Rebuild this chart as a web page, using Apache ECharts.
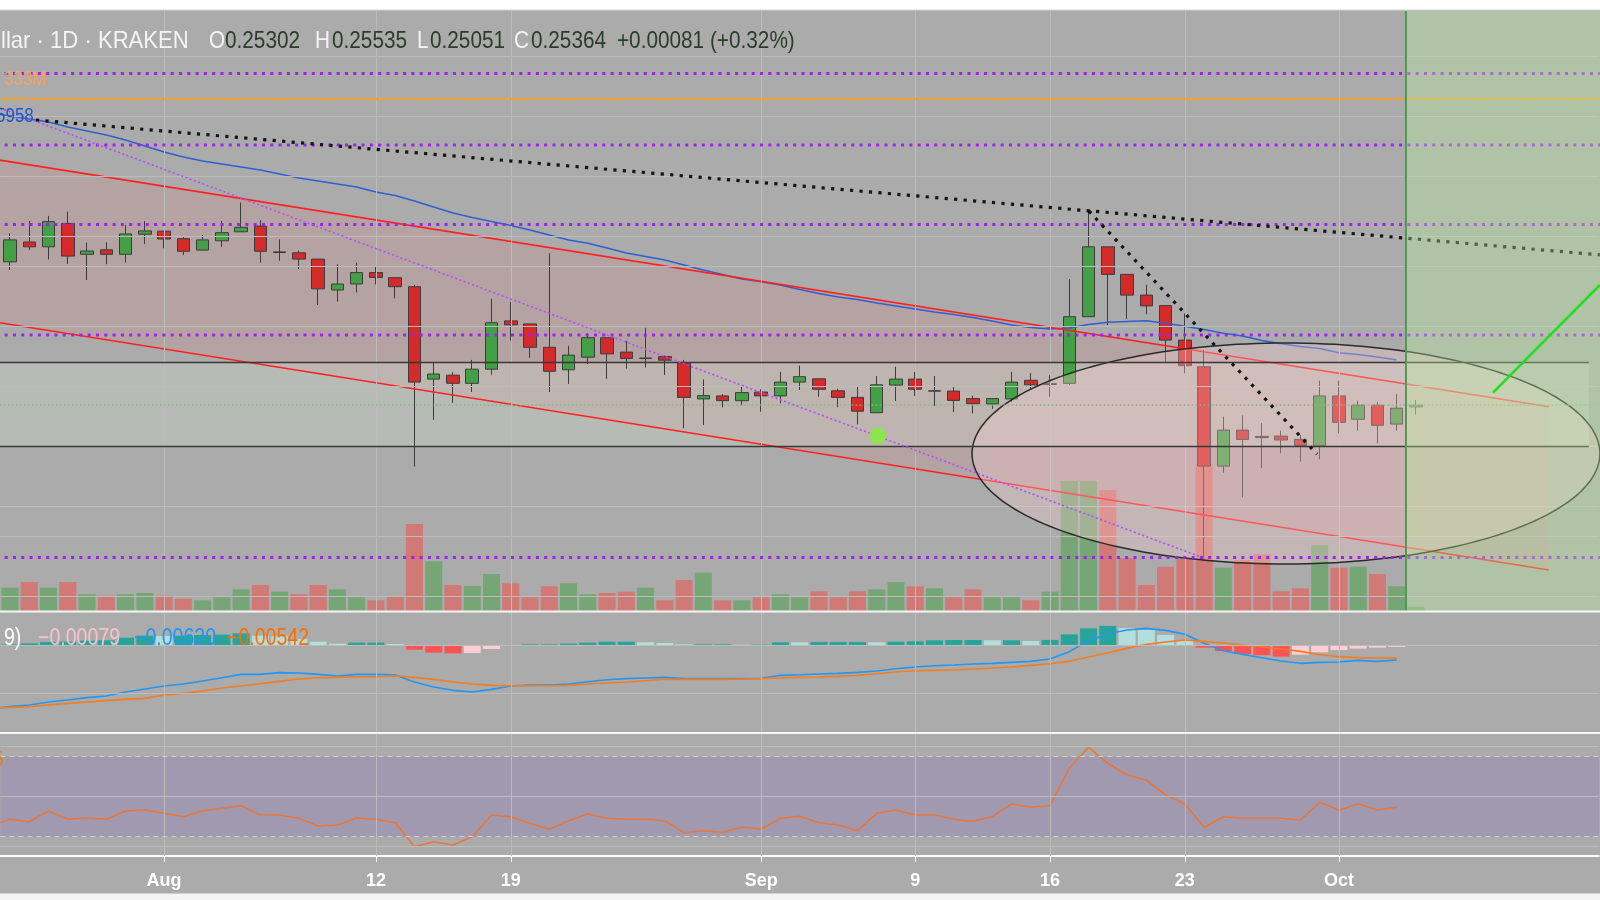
<!DOCTYPE html>
<html><head><meta charset="utf-8">
<script src="https://cdn.jsdelivr.net/npm/echarts@6/dist/echarts.min.js"></script>
<style>html,body{margin:0;padding:0;background:#fff}#c{width:1600px;height:900px}</style>
</head><body><div id="c"></div>
<script>
// ---------- DATA ----------
// categories: daily dates starting 2019-07-24 (83 days); day index 0 = 2019-07-24
const firstDay = Date.UTC(2019, 6, 24);
const dayCount = 83;
const dates = [];
for (let i = 0; i < dayCount; i++) dates.push(new Date(firstDay + i * 864e5).toISOString().slice(0, 10));

// tick labels on the time axis
const tickLabels = {'2019-08-01':'Aug','2019-08-12':'12','2019-08-19':'19','2019-09-01':'Sep','2019-09-09':'9','2019-09-16':'16','2019-09-23':'23','2019-10-01':'Oct'};

// candles: 2019-07-24 .. 2019-10-05
const candleOpen = [.3014,.3080,.3064,.3142,.3039,.3054,.3039,.3106,.3116,.3091,.3053,.3084,.3114,.3133,.3045,.3044,.3023,.2920,.2940,.2978,.2961,.2931,.2623,.2636,.2609,.2656,.2817,.2807,.2729,.2654,.2696,.2761,.2713,.2692,.2698,.2678,.2557,.2567,.2551,.2580,.2567,.2613,.2624,.2584,.2562,.2511,.2603,.2623,.2583,.2583,.2558,.2540,.2557,.2619,.2605,.2609,.2831,.3064,.2972,.2903,.2868,.2753,.2664,.2333,.2453,.2432,.2433,.2422,.2400,.2567,.2489,.2536,.2473,.25302];
const candleClose = [.3087,.3064,.3148,.3033,.3050,.3039,.3107,.3117,.3090,.3049,.3087,.3111,.3129,.3049,.3047,.3023,.2924,.2940,.2978,.2962,.2931,.2613,.2640,.2609,.2656,.2811,.2804,.2729,.2649,.2703,.2761,.2707,.2692,.2693,.2686,.2562,.2568,.2551,.2578,.2567,.2613,.2631,.2589,.2562,.2516,.2604,.2623,.2589,.2584,.2552,.2541,.2558,.2613,.2604,.2608,.2831,.3064,.2972,.2903,.2867,.2753,.2668,.2333,.2453,.2422,.2428,.2420,.2401,.2567,.2479,.2536,.2469,.2526,.25364];
const candleHigh = [.3109,.3150,.3167,.3181,.3078,.3079,.3137,.3150,.3117,.3100,.3103,.3150,.3212,.3153,.3089,.3051,.3023,.3006,.3011,.3000,.2962,.2937,.2678,.2646,.2687,.2891,.2881,.2807,.3042,.2734,.2776,.2761,.2751,.2794,.2701,.2687,.2622,.2573,.2600,.2589,.2647,.2668,.2624,.2591,.2600,.2633,.2664,.2647,.2633,.2600,.2568,.2558,.2647,.2643,.2636,.2956,.3184,.3064,.2972,.2937,.2868,.2842,.2720,.2498,.2502,.2476,.2451,.2437,.2618,.2618,.2551,.2547,.2573,.25535];
const candleLow = [.2987,.3053,.3022,.3007,.2953,.3006,.3012,.3073,.3059,.3037,.3052,.3064,.3114,.3011,.3017,.2990,.2870,.2881,.2912,.2939,.2892,.2331,.2487,.2544,.2580,.2638,.2751,.2694,.2580,.2607,.2673,.2624,.2658,.2662,.2637,.2459,.2470,.2529,.2536,.2514,.2542,.2587,.2564,.2529,.2472,.2511,.2550,.2567,.2534,.2513,.2509,.2524,.2547,.2589,.2564,.2603,.2831,.2803,.2823,.2839,.2679,.2642,.2020,.2311,.2229,.2326,.2376,.2348,.2356,.2442,.2451,.2409,.2451,.25051];
// volume (millions), same dates as candles
const volume = [23.3,29,23.3,29,16.7,15.3,16.7,18,15.3,12.3,10.7,13.7,21.7,26,19.3,16.7,26,21.7,13.7,10.7,15,87,49.7,26,25,37,27.7,13.7,24.7,27.7,16.7,18,19.3,23.3,10.7,31,38.3,10.7,10.7,13.7,16.7,13.7,19.7,13.7,19.7,21.7,29,24.7,22.7,13.7,21.7,13.7,13.7,10.7,19.3,130,130,121,52.7,26,44.3,52,147,43.3,51,56.7,19.7,22.7,66,43.3,44.3,37,24.7,4.3];

// indicator series start one day earlier: 2019-07-23 .. 2019-10-04
const indicatorFirstIndex = -1;
// moving average (blue)
const maLine = [.35100,.35000,.34900,.34800,.34633,.34500,.34367,.34200,.34000,.33800,.33633,.33500,.33400,.33300,.33200,.33067,.32933,.32833,.32733,.32633,.32467,.32350,.32167,.31967,.31767,.31617,.31483,.31350,.31200,.31033,.30867,.30757,.30600,.30433,.30317,.30200,.30033,.29867,.29717,.29567,.29477,.29367,.29217,.29083,.28967,.28883,.28767,.28667,.28567,.28467,.28383,.28283,.28167,.28033,.27950,.27900,.27933,.28050,.28123,.28150,.28173,.28090,.27993,.27883,.27757,.27667,.27517,.27410,.27317,.27250,.27110,.27050,.26967,.26867];
// MACD pane
const macdLine = [-.02631,-.02548,-.02479,-.02355,-.02273,-.02176,-.02107,-.01942,-.01818,-.01694,-.01612,-.01488,-.0135,-.01212,-.01212,-.01143,-.01157,-.01212,-.01281,-.01212,-.01212,-.0124,-.01529,-.01736,-.01873,-.01942,-.01832,-.01694,-.01653,-.01653,-.01612,-.01515,-.01433,-.01391,-.01364,-.01336,-.01391,-.01391,-.01391,-.01391,-.01377,-.01253,-.01226,-.01198,-.01171,-.01129,-.01074,-.00978,-.00909,-.00854,-.00826,-.00785,-.00757,-.00716,-.00675,-.00579,-.00275,.00179,.00468,.0062,.00689,.00606,.00441,.00069,-.00234,-.00386,-.00523,-.00661,-.00757,-.00716,-.00702,-.00634,-.00675,-.0062];
const signalLine = [-.02603,-.02576,-.02548,-.02479,-.0241,-.02355,-.023,-.02245,-.02204,-.02066,-.01997,-.01901,-.01777,-.01694,-.01598,-.01501,-.01405,-.0135,-.01336,-.01309,-.01309,-.01281,-.01336,-.01419,-.01529,-.01612,-.01667,-.01681,-.01681,-.01681,-.01667,-.01612,-.0157,-.01529,-.01474,-.01419,-.01419,-.01419,-.01419,-.01405,-.01391,-.01364,-.01336,-.01322,-.01295,-.01253,-.01185,-.01116,-.01061,-.01047,-.01033,-.00992,-.0095,-.00909,-.0084,-.00771,-.00675,-.00496,-.00317,-.00138,.00028,.00124,.00207,.00152,.00083,0,-.00069,-.00165,-.00262,-.004,-.00482,-.00523,-.00537,-.00542];
const macdHist = [.00028,.00028,.00069,.00124,.00137,.00179,.00193,.00303,.00386,.00372,.00385,.00413,.00427,.00482,.00386,.00358,.00248,.00138,.00055,.00097,.00097,.00041,-.00193,-.00317,-.00344,-.0033,-.00165,-.00013,.00028,.00028,.00055,.00097,.00137,.00138,.0011,.00083,.00028,.00028,.00028,.00014,.00014,.00111,.0011,.00124,.00124,.00124,.00111,.00138,.00152,.00193,.00207,.00207,.00193,.00193,.00165,.00210,.0044,.0069,.0079,.0070,.0062,.0042,.0021,-.0011,-.0025,-.0037,-.0042,-.0048,-.0040,-.0030,-.0021,-.0015,-.0011,-.00079];
// RSI pane
const rsiLine = [35.4,38.7,37.5,42.85,38.7,39.35,38.7,42.85,43.35,41.7,40.0,42.85,44.2,45.5,41.0,40.85,39.2,35.35,35.85,39.35,38.7,37.0,25.0,27.5,25.85,30.0,40.85,40.0,36.7,33.7,38.0,41.35,39.2,38.7,38.7,38.0,32.0,33.0,32.2,34.7,33.85,39.2,40.2,37.0,35.85,33.0,41.7,43.35,40.85,40.85,38.7,37.7,40.0,46.35,44.7,45.5,64.2,74.7,66.7,60.85,58.35,50.85,46.35,34.7,40.0,39.2,39.2,39.2,38.35,47.2,43.35,46.35,43.35,44.7];

// drawings: [dayIndex (0 = 2019-07-24), price]
const channelUpper = [[-1.5, 0.3363], [79.907, 0.2531]];
const channelLower = [[-1.5, 0.2821], [79.907, 0.19867]];
const longDotted = [[1.35, 0.34867], [82.55, 0.3037]];
const shortDotted = [[56.02, 0.3183], [67.86, 0.2373]];
const purpleDiag = [[-0.52, 0.35267], [61.79, 0.2031]];
const greenRay = [[77.0, 0.25777], [82.55, 0.29367]];
const greenDot = [[45.05, 0.24333]];
const purpleLevels = [0.3642, 0.3403, 0.3138, 0.2770, 0.2028];
const orangeLevel = 0.3557;
const blackLevels = [0.2678, 0.2398];
const blackLevelEnd = 81.98;
const lastPrice = 0.25364;
const ellipse = {cx: 66.25, cy: 0.2375, rx: 16.30, ry: 0.03683};
const greenZoneStart = 72.48;
// gridlines
const vGridDays = [8, 19, 26, 39, 47, 54, 61, 69];
const priceGrid = [0.18817, 0.20607, 0.22397, 0.24187, 0.25977, 0.27767, 0.29557, 0.31347, 0.33137, 0.34927, 0.36717];
const macdGrid = [0, -0.022];
const rsiGrid = [75, 50, 25];
const rsiBand = [30, 70];

// ---------- LAYOUT ----------
const D = 19.26;              // px per day
const GL = 10 - D / 2;        // 2019-07-24 centred at x=10
const GW = dayCount * D;
const FONT = '"Liberation Sans", Arial, sans-serif';
const upCol = '#43a047', downCol = '#d42a2a';

const padCat = arr => { const o = new Array(dayCount).fill('-'); arr.forEach((v, i) => { if (i < dayCount) o[i] = v; }); return o; };
const candleData = padCat(candleOpen.map((o, i) => [o, candleClose[i], candleLow[i], candleHigh[i]]));
const volData = padCat(volume.map((v, i) => ({value: v, itemStyle: {color: candleClose[i] >= candleOpen[i] ? 'rgba(60,160,60,0.48)' : 'rgba(255,60,50,0.45)'}})));
const indXY = arr => arr.map((v, i) => [i + indicatorFirstIndex, v]);
const histData = macdHist.map((v, i) => {
  const p = i > 0 ? macdHist[i - 1] : v;
  let c;
  if (v >= 0) c = v >= p ? '#26a69a' : '#b2dfdb'; else c = v < p ? '#ff5252' : '#ffcdd2';
  return {value: [i + indicatorFirstIndex, v], itemStyle: {color: c}};
});

function hLine(y, x0, x1) { return [[x0, y], [x1, y]]; }
function lineSeries(data, color, width, type, z, xi, yi) {
  return {type: 'line', xAxisIndex: xi === undefined ? 1 : xi, yAxisIndex: yi === undefined ? 0 : yi, data, symbol: 'none', silent: true, z: z || 6, clip: false,
    lineStyle: {color, width, type: type || 'solid', cap: 'butt'}, animation: false};
}
const gridStyle = {color: '#bcbcbc', width: 1, type: 'solid'};
function gridMarks(xi, yi, hvals) {
  return {type: 'line', xAxisIndex: xi, yAxisIndex: yi, data: [], silent: true, z: 0,
    markLine: {symbol: ['none', 'none'], silent: true, label: {show: false}, lineStyle: gridStyle, animation: false,
      data: vGridDays.map(d => ({xAxis: d})).concat(hvals.map(v => ({yAxis: v})))}};
}

const series = [];
series.push(gridMarks(1, 0, priceGrid));
series.push(gridMarks(4, 2, macdGrid));
const rsiGridS = gridMarks(5, 3, rsiGrid);
rsiGridS.markArea = {silent: true, itemStyle: {color: 'rgba(126,87,194,0.2)'}, data: [[{yAxis: rsiBand[0]}, {yAxis: rsiBand[1]}]]};
series.push(rsiGridS);
series.push({type: 'line', xAxisIndex: 5, yAxisIndex: 3, data: [], silent: true, z: 1,
  markLine: {symbol: ['none', 'none'], silent: true, label: {show: false}, animation: false,
    lineStyle: {color: '#cfcfcf', width: 1, type: [5, 4]}, data: rsiBand.map(v => ({yAxis: v}))}});

// channel fill
series.push({type: 'custom', xAxisIndex: 1, yAxisIndex: 0, silent: true, z: 1, clip: false, data: [[0, 0.3]],
  renderItem: (p, api) => ({type: 'polygon', shape: {points: [channelUpper[0], channelUpper[1], channelLower[1], channelLower[0]].map(q => api.coord(q))},
    style: {fill: 'rgba(255,110,110,0.12)'}})});
// light band between black levels
series.push({type: 'custom', xAxisIndex: 1, yAxisIndex: 0, silent: true, z: 1, clip: false, data: [[0, 0.25]],
  renderItem: (p, api) => ({type: 'polygon', shape: {points: [[-2, blackLevels[0]], [blackLevelEnd, blackLevels[0]], [blackLevelEnd, blackLevels[1]], [-2, blackLevels[1]]].map(q => api.coord(q))},
    style: {fill: 'rgba(220,235,215,0.25)'}})});

// volume
series.push({type: 'bar', xAxisIndex: 0, yAxisIndex: 1, data: volData, barWidth: 17, silent: true, z: 2, animation: false});
// candles
series.push({type: 'candlestick', xAxisIndex: 0, yAxisIndex: 0, data: candleData, barWidth: 13, silent: true, z: 3, animation: false,
  itemStyle: {color: upCol, color0: downCol, borderColor: '#3c3c3c', borderColor0: '#3c3c3c', borderWidth: 1}});
// moving average
series.push(lineSeries(indXY(maLine), '#2f5fd0', 1.6, 'solid', 4));

// channel lines
series.push(lineSeries(channelUpper, '#ff1f1f', 1.6, 'solid', 4));
series.push(lineSeries(channelLower, '#ff1f1f', 1.6, 'solid', 4));
// ellipse
series.push({type: 'custom', xAxisIndex: 1, yAxisIndex: 0, silent: true, z: 5, clip: false, data: [[ellipse.cx, ellipse.cy]],
  renderItem: (p, api) => {
    const c = api.coord([ellipse.cx, ellipse.cy]);
    const s = api.size([ellipse.rx, ellipse.ry]);
    const pts = [];
    for (let k = 0; k <= 200; k++) { const t = k / 200 * Math.PI * 2; pts.push([c[0] + s[0] * Math.cos(t), c[1] + s[1] * Math.sin(t)]); }
    return {type: 'polygon', shape: {points: pts}, style: {fill: 'rgba(250,205,205,0.33)', stroke: '#2a2a2a', lineWidth: 1.5}};
  }});
// horizontal levels
purpleLevels.forEach(v => series.push(lineSeries(hLine(v, -2, 84), '#a020f0', 3, [3, 5.3], 6)));
series.push(lineSeries(hLine(orangeLevel, -2, 84), '#ff9f1a', 2.5, [4, 2], 6));
blackLevels.forEach(v => series.push(lineSeries(hLine(v, -2, blackLevelEnd), '#383838', 1.5, 'solid', 6)));
series.push(lineSeries(hLine(lastPrice, -2, 84), '#7dbb7d', 1.2, [2, 2], 6));
// diagonal drawings
series.push(lineSeries(purpleDiag, '#b04bff', 1.6, [2, 2.5], 6));
series.push(lineSeries(longDotted, '#141414', 3.2, [3.2, 6.3], 7));
series.push(lineSeries(shortDotted, '#141414', 3.2, [3.2, 6.3], 7));
series.push(lineSeries(greenRay, '#1fe01f', 2.6, 'solid', 9));
series.push({type: 'scatter', xAxisIndex: 1, yAxisIndex: 0, data: greenDot, symbol: 'circle', symbolSize: 17, silent: true, z: 7,
  itemStyle: {color: '#8de44e', opacity: 1}, animation: false});
// green zone
series.push({type: 'custom', xAxisIndex: 1, yAxisIndex: 0, silent: true, z: 8, clip: false, data: [[greenZoneStart, 0.3]],
  renderItem: (p, api) => {
    const a = api.coord([greenZoneStart, 0.385]), b = api.coord([84, 0.185]);
    return {type: 'group', children: [
      {type: 'rect', shape: {x: a[0], y: a[1], width: b[0] - a[0], height: b[1] - a[1]}, style: {fill: 'rgba(190,240,160,0.35)'}},
      {type: 'line', shape: {x1: a[0], y1: a[1], x2: a[0], y2: b[1]}, style: {stroke: '#4f9a4f', lineWidth: 2}}
    ]};
  }});

// MACD
series.push({type: 'bar', xAxisIndex: 4, yAxisIndex: 2, data: histData, barWidth: 17, silent: true, z: 2, animation: false});
series.push(lineSeries(indXY(macdLine), '#2196f3', 1.6, 'solid', 3, 4, 2));
series.push(lineSeries(indXY(signalLine), '#f57c1f', 1.6, 'solid', 3, 4, 2));
// RSI
series.push(lineSeries(indXY(rsiLine), '#e8763a', 1.6, 'solid', 3, 5, 3));

const hiddenCat = g => ({type: 'category', gridIndex: g, data: dates, boundaryGap: true, show: false});
const hiddenVal = g => ({type: 'value', gridIndex: g, min: -0.5, max: dayCount - 0.5, show: false});
const isTick = (i, v) => Object.prototype.hasOwnProperty.call(tickLabels, v);

function txt(x, y, text, fill, size, sx) {
  return {type: 'text', x, y, scaleX: sx, z: 100, silent: true,
    style: {text, fill, font: size + 'px ' + FONT, align: 'left', verticalAlign: 'middle'}};
}
const hdrS = 0.865, valCol = '#2c3b2c', white = '#f4f4f4';
const gridBase = {left: GL, width: GW, outerBoundsMode: 'none', containLabel: false};

const option = {
  animation: false,
  backgroundColor: '#ababab',
  textStyle: {fontFamily: FONT},
  grid: [
    Object.assign({top: 11, height: 600}, gridBase),
    Object.assign({top: 612, height: 121}, gridBase),
    Object.assign({top: 733, height: 123}, gridBase)
  ],
  xAxis: [
    hiddenCat(0), hiddenVal(0), hiddenCat(1),
    {type: 'category', gridIndex: 2, data: dates, boundaryGap: true, position: 'bottom',
      axisLine: {show: true, lineStyle: {color: '#ffffff', width: 2}},
      axisTick: {show: true, alignWithLabel: true, interval: isTick, length: 6, lineStyle: {color: '#ffffff', width: 1}},
      axisLabel: {show: true, interval: isTick, formatter: v => tickLabels[v] || '', color: '#ffffff', fontSize: 18, fontWeight: 'bold', margin: 16, fontFamily: FONT},
      splitLine: {show: false}},
    hiddenVal(1), hiddenVal(2)
  ],
  yAxis: [
    {type: 'value', gridIndex: 0, min: 0.185, max: 0.385, show: false},
    {type: 'value', gridIndex: 0, min: 0, max: 600, show: false},
    {type: 'value', gridIndex: 1, min: -0.03636, max: 0.01364, show: false},
    {type: 'value', gridIndex: 2, min: 20.35, max: 81.85, show: false}
  ],
  series,
  graphic: [
    {type: 'rect', shape: {x: 0, y: 0, width: 1600, height: 10}, style: {fill: '#ffffff'}, z: 90, silent: true},
    {type: 'rect', shape: {x: 0, y: 9.5, width: 1600, height: 1}, style: {fill: '#d8d8d8'}, z: 90, silent: true},
    {type: 'rect', shape: {x: 0, y: 610.5, width: 1600, height: 2}, style: {fill: '#f6f6f6'}, z: 90, silent: true},
    {type: 'rect', shape: {x: 0, y: 732, width: 1600, height: 2}, style: {fill: '#f6f6f6'}, z: 90, silent: true},
    {type: 'rect', shape: {x: 0, y: 893.5, width: 1600, height: 6.5}, style: {fill: '#f4f4f4'}, z: 90, silent: true},
    txt(1, 41, 'llar · 1D · KRAKEN', white, 24, 0.92),
    txt(209, 41, 'O', white, 24, hdrS), txt(225, 41, '0.25302', valCol, 24, hdrS),
    txt(315, 41, 'H', white, 24, hdrS), txt(332, 41, '0.25535', valCol, 24, hdrS),
    txt(417, 41, 'L', white, 24, hdrS), txt(430, 41, '0.25051', valCol, 24, hdrS),
    txt(514, 41, 'C', white, 24, hdrS), txt(531, 41, '0.25364', valCol, 24, hdrS),
    txt(617, 41, '+0.00081 (+0.32%)', valCol, 24, hdrS),
    txt(4, 79, '333M', '#f4a266', 20, 0.85),
    txt(-4, 116, '5958', '#2257c5', 20, 0.85),
    txt(4, 639, '9)', '#ffffff', 23, 0.85),
    txt(38, 639, '\u22120.00079', '#f8c1cf', 23, 0.85),
    txt(134, 639, '\u22120.00620', '#2196f3', 23, 0.85),
    txt(227, 639, '\u22120.00542', '#ff6d00', 23, 0.85),
    txt(-7, 760, '5', '#f57c00', 22, 0.85)
  ]
};
const chart = echarts.init(document.getElementById('c'));
chart.setOption(option);
</script>
</body></html>
